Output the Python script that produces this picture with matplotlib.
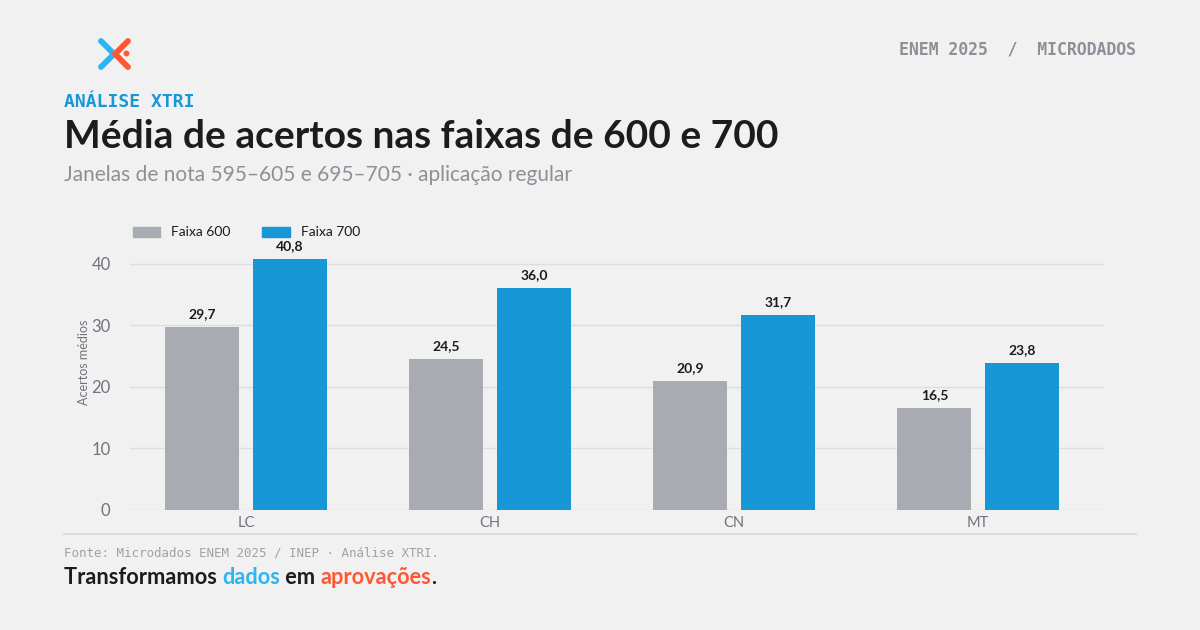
import matplotlib
matplotlib.use("Agg")
import matplotlib.pyplot as plt
from matplotlib.lines import Line2D
from matplotlib.patches import Rectangle
import numpy as np

# data
categories = ["LC", "CH", "CN", "MT"]
faixa_600 = [29.7, 24.5, 20.9, 16.5]
faixa_700 = [40.8, 36.0, 31.7, 23.8]
series_names = ["Faixa 600", "Faixa 700"]
y_ticks = [0, 10, 20, 30, 40]

BG = "#f1f1f1"
GREY_BAR = "#a8abb1"
BLUE_BAR = "#1897d7"
TEXT_DARK = "#1c1c1e"
TEXT_GREY = "#8c9097"
LOGO_BLUE = "#2bb5f2"
LOGO_ORANGE = "#ff5733"
SANS = "Lato"
MONO = "DejaVu Sans Mono"

W, H = 1200, 630
fig = plt.figure(figsize=(W / 100, H / 100), dpi=100, facecolor=BG)


def fx(px):
    return px / W


def fy(py):
    return 1 - py / H


# logo
for pts, col in [([(101, 41), (114, 54), (101, 67)], LOGO_BLUE),
                 ([(128, 41), (115, 54), (128, 67)], LOGO_ORANGE)]:
    xs = [fx(p[0]) for p in pts]
    ys = [fy(p[1]) for p in pts]
    fig.add_artist(Line2D(xs, ys, color=col, lw=4.2, solid_capstyle="round",
                          solid_joinstyle="round"))
fig.add_artist(Line2D([fx(125.5)], [fy(53)], marker="o", ms=3.2, color=LOGO_ORANGE, lw=0))

fig.text(fx(1136), fy(49), "ENEM 2025  /  MICRODADOS", ha="right", va="center",
         family=MONO, weight="bold", fontsize=11.9, color=TEXT_GREY)

fig.text(fx(64), fy(102), "ANÁLISE XTRI", ha="left", va="center",
         family=MONO, weight="bold", fontsize=13, color=BLUE_BAR)
fig.text(fx(64), fy(137), "Média de acertos nas faixas de 600 e 700", ha="left", va="center",
         family=SANS, weight="bold", fontsize=28, color=TEXT_DARK)
fig.text(fx(64), fy(175), "Janelas de nota 595–605 e 695–705 · aplicação regular", ha="left",
         va="center", family=SANS, fontsize=15, color=TEXT_GREY)

# chart
ax = fig.add_axes([fx(130), fy(510), fx(1104) - fx(130), fy(233) - fy(510)])
ax.set_facecolor(BG)
x = np.arange(len(categories))
off = 0.18
bw = 0.303
b1 = ax.bar(x - off, faixa_600, bw, color=GREY_BAR, zorder=3)
b2 = ax.bar(x + off, faixa_700, bw, color=BLUE_BAR, zorder=3)
for bars, vals in [(b1, faixa_600), (b2, faixa_700)]:
    for r, v in zip(bars, vals):
        ax.annotate(f"{v:.1f}".replace(".", ","), (r.get_x() + r.get_width() / 2, v),
                    xytext=(0, 5), textcoords="offset points", ha="center", va="bottom",
                    family=SANS, weight="bold", fontsize=10, color=TEXT_DARK)

ax.set_xlim(-0.475, 3.515)
ax.set_ylim(0, 45)
ax.set_yticks(y_ticks)
ax.set_yticklabels([str(t) for t in y_ticks])
ax.set_xticks(x)
ax.set_xticklabels(categories)
ax.tick_params(axis="y", length=0, pad=14, labelsize=12, labelcolor="#6f737b")
ax.tick_params(axis="x", length=0, pad=4, labelsize=10.5, labelcolor="#6f737b")
for lab in ax.get_xticklabels() + ax.get_yticklabels():
    lab.set_family(SANS)
ax.grid(axis="y", color="#dedee2", lw=1, zorder=0)
for s in ax.spines.values():
    s.set_visible(False)
ax.axhline(0, color="#e6e6e9", lw=1, zorder=2)
ax.set_ylabel("Acertos médios", family=SANS, fontsize=9, color="#6f737b")
ax.yaxis.set_label_coords(-0.041, 0.534)

# legend
fig.add_artist(Rectangle((fx(133), fy(237)), fx(27), fy(227) - fy(237), color=GREY_BAR))
fig.text(fx(171), fy(232), series_names[0], ha="left", va="center", family=SANS,
         fontsize=10, color=TEXT_DARK)
fig.add_artist(Rectangle((fx(262), fy(237)), fx(28), fy(227) - fy(237), color=BLUE_BAR))
fig.text(fx(301), fy(232), series_names[1], ha="left", va="center", family=SANS,
         fontsize=10, color=TEXT_DARK)

# footer
fig.add_artist(Line2D([fx(64), fx(1136)], [fy(533.5), fy(533.5)], color="#dcdce0", lw=1.5))
fig.text(fx(64), fy(553), "Fonte: Microdados ENEM 2025 / INEP · Análise XTRI.", ha="left",
         va="center", family=MONO, fontsize=9, color="#a0a2a6")

renderer = fig.canvas.get_renderer()
xpos = fx(64)
for piece, col in [("Transformamos ", TEXT_DARK), ("dados", LOGO_BLUE), (" em ", TEXT_DARK),
                   ("aprovações", LOGO_ORANGE), (".", TEXT_DARK)]:
    t = fig.text(xpos, fy(577), piece, ha="left", va="center", family=SANS, weight="bold",
                 fontsize=15.7, color=col)
    bb = t.get_window_extent(renderer)
    xpos += bb.width / W

fig.savefig("out.png", dpi=100, facecolor=BG)
